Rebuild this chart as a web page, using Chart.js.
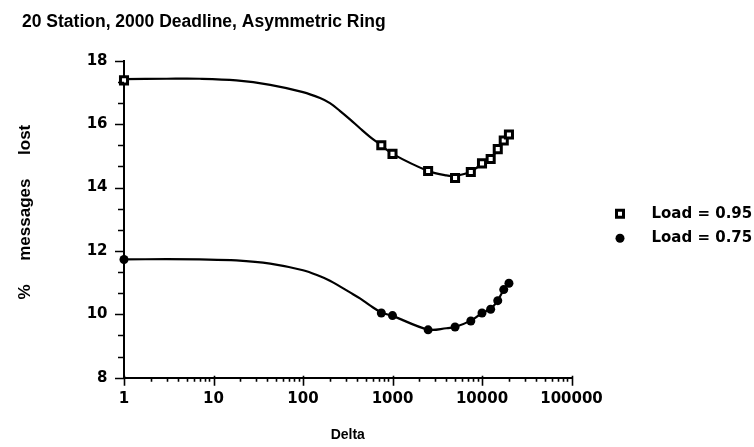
<!DOCTYPE html>
<html>
<head>
<meta charset="utf-8">
<script src="https://cdn.jsdelivr.net/npm/chart.js@4.4.1/dist/chart.umd.min.js"></script>
<style>
  html, body { margin: 0; padding: 0; background: #fff; }
</style>
</head>
<body>
<canvas id="chart" width="754" height="447"></canvas>
<script>
// runs: Delta value and % of messages lost for each load
const deltas = [1, 750, 1000, 2500, 5000, 7500, 10000, 12500, 15000, 17500, 20000];
const lost95 = [17.38, 15.33, 15.06, 14.52, 14.3, 14.49, 14.76, 14.9, 15.21, 15.48, 15.67];
const lost75 = [11.73, 10.04, 9.96, 9.51, 9.6, 9.79, 10.04, 10.16, 10.43, 10.78, 10.98];

// smoothed fit curves
const fitDeltas = [1, 3, 7, 18, 43, 100, 155, 200, 258, 335, 433, 560, 750, 1000, 2500, 4000, 5000, 7500, 10000, 12500, 15000, 17500, 20000];
const fit95 = [17.42, 17.43, 17.43, 17.38, 17.24, 17.01, 16.82, 16.66, 16.42, 16.15, 15.87, 15.6, 15.33, 15.06, 14.52, 14.38, 14.37, 14.5, 14.76, 14.93, 15.2, 15.46, 15.67];
const fit75 = [11.73, 11.74, 11.73, 11.7, 11.6, 11.39, 11.2, 11.06, 10.88, 10.69, 10.5, 10.28, 10.06, 9.95, 9.52, 9.56, 9.6, 9.8, 10.04, 10.17, 10.44, 10.77, 10.98];

// axis ticks
const decades = [1, 10, 100, 1000, 10000, 100000];
const yLabels = [8, 10, 12, 14, 16, 18];

const seriesNames = ['Load = 0.95', 'Load = 0.75'];

const tickFont = { family: 'DejaVu Sans', size: 15, weight: 'bold' };

function pts(xs, ys) {
  return xs.map((x, i) => ({ x: x, y: ys[i] }));
}

// short ticks drawn by hand: longer on labelled values
const tickMarks = {
  id: 'tickMarks',
  afterDraw(chart) {
    const { ctx } = chart;
    const x = chart.scales.x, y = chart.scales.y;
    ctx.save();
    ctx.strokeStyle = '#000';
    ctx.lineWidth = 1.6;
    ctx.beginPath();
    x.ticks.forEach(t => {
      const px = Math.round(x.getPixelForValue(t.value)) + 0.5;
      const len = decades.includes(t.value) ? 8 : 4;
      ctx.moveTo(px, x.top - (decades.includes(t.value) ? 2 : 0));
      ctx.lineTo(px, x.top + len);
    });
    y.ticks.forEach(t => {
      const py = Math.round(y.getPixelForValue(t.value)) + 0.5;
      const len = yLabels.includes(t.value) ? 9 : 6;
      ctx.moveTo(y.right - len, py);
      ctx.lineTo(y.right, py);
    });
    ctx.stroke();
    ctx.restore();
  }
};

// key at the right of the plot
const keyBox = {
  id: 'keyBox',
  afterDraw(chart) {
    const { ctx, chartArea } = chart;
    const mx = chartArea.right + 48.5;
    const tx = chartArea.right + 80;
    const rows = [chartArea.top + 153, chartArea.top + 177];
    ctx.save();
    // open square
    ctx.strokeStyle = '#000';
    ctx.fillStyle = '#fff';
    ctx.lineWidth = 3;
    ctx.beginPath();
    ctx.rect(mx - 3.5, rows[0] - 3.5, 7, 7);
    ctx.fill();
    ctx.stroke();
    // filled dot
    ctx.fillStyle = '#000';
    ctx.beginPath();
    ctx.arc(mx, rows[1] + 0.5, 4.5, 0, Math.PI * 2);
    ctx.fill();
    ctx.font = 'bold 15px "DejaVu Sans"';
    ctx.textBaseline = 'middle';
    ctx.textAlign = 'left';
    seriesNames.forEach((name, i) => ctx.fillText(name, tx, rows[i]));
    ctx.restore();
  }
};

new Chart(document.getElementById('chart'), {
  type: 'scatter',
  data: {
    datasets: [
      {
        label: seriesNames[0],
        data: pts(deltas, lost95),
        pointStyle: 'rect',
        pointRadius: 5,
        pointBorderWidth: 3,
        pointBackgroundColor: '#fff',
        pointBorderColor: '#000',
        showLine: false,
        clip: false,
        order: 0
      },
      {
        label: seriesNames[1],
        data: pts(deltas, lost75),
        pointStyle: 'circle',
        pointRadius: 4.5,
        pointBorderWidth: 0,
        pointBackgroundColor: '#000',
        pointBorderColor: '#000',
        showLine: false,
        clip: false,
        order: 0
      },
      {
        label: 'fit 0.95',
        data: pts(fitDeltas, fit95),
        showLine: true,
        borderColor: '#000',
        borderWidth: 2.2,
        pointRadius: 0,
        tension: 0.35,
        order: 1
      },
      {
        label: 'fit 0.75',
        data: pts(fitDeltas, fit75),
        showLine: true,
        borderColor: '#000',
        borderWidth: 2.2,
        pointRadius: 0,
        tension: 0.35,
        order: 1
      }
    ]
  },
  options: {
    responsive: false,
    animation: false,
    events: [],
    layout: { padding: { left: 22, right: 182.5, top: 0, bottom: 0 } },
    plugins: {
      legend: { display: false },
      tooltip: { enabled: false },
      title: {
        display: true,
        text: '20 Station, 2000 Deadline, Asymmetric Ring',
        align: 'start',
        color: '#000',
        font: { family: 'Liberation Sans', size: 17.5, weight: 'bold', lineHeight: 1.2 },
        padding: { top: 11.2, bottom: 28.5 }
      }
    },
    scales: {
      x: {
        type: 'logarithmic',
        min: 1,
        max: 100000,
        border: { display: true, color: '#000', width: 2 },
        grid: { display: false, drawTicks: false },
        afterBuildTicks(scale) {
          const ticks = [];
          decades.forEach(d => {
            ticks.push({ value: d });
            if (d < 100000) {
              for (let k = 2; k <= 9; k++) ticks.push({ value: d * k });
            }
          });
          scale.ticks = ticks;
        },
        afterFit(scale) { scale.height = 69.3; },
        ticks: {
          autoSkip: false,
          maxRotation: 0,
          padding: 12.5,
          color: '#000',
          font: tickFont,
          callback: v => decades.includes(v) ? String(v) : ''
        },
        title: {
          display: true,
          text: 'Delta',
          color: '#000',
          font: { family: 'Liberation Sans', size: 14, weight: 'bold', lineHeight: 1.2 },
          padding: { top: 0, bottom: 3.6 }
        }
      },
      y: {
        min: 8,
        max: 18,
        border: { display: true, color: '#000', width: 2 },
        grid: { display: false, drawTicks: false },
        afterBuildTicks(scale) {
          const ticks = [];
          yLabels.forEach((v, i) => {
            ticks.push({ value: v });
            if (i < yLabels.length - 1) {
              const step = (yLabels[i + 1] - v) / 3;
              ticks.push({ value: v + step }, { value: v + 2 * step });
            }
          });
          scale.ticks = ticks;
        },
        afterFit(scale) { scale.width = 102; },
        ticks: {
          autoSkip: false,
          padding: 16.5,
          color: '#000',
          font: tickFont,
          callback: v => yLabels.includes(v) ? String(v) : ''
        },
        title: {
          display: true,
          text: '   %     messages     lost',
          color: '#000',
          font: { family: 'Liberation Sans', size: 17, weight: 'bold', lineHeight: 1.2 },
          padding: { top: -7, bottom: 0 }
        }
      }
    }
  },
  plugins: [tickMarks, keyBox]
});
</script>
</body>
</html>
